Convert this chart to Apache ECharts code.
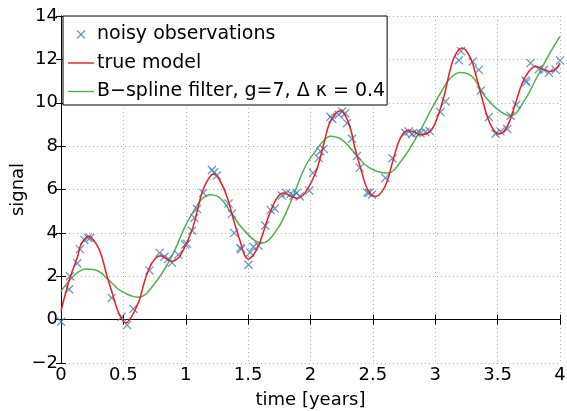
<!DOCTYPE html>
<html>
<head>
<meta charset="utf-8">
<script src="https://cdn.jsdelivr.net/npm/echarts@6/dist/echarts.min.js"></script>
<style>
html,body{margin:0;padding:0;background:#fff;}
#chart{width:567px;height:411px;}
</style>
</head>
<body>
<div id="chart"></div>
<script>
// noisy observations
var obsT = [0.00,0.065,0.072,0.13,0.152,0.187,0.215,0.233,0.407,0.487,0.53,0.58,0.709,0.79,0.83,0.86,0.89,0.94,0.995,1.009,
    1.05,1.07,1.09,1.14,1.21,1.228,1.25,1.343,1.37,1.388,1.437,1.445,1.503,1.517,1.543,1.583,1.637,1.68,1.714,1.771,1.806,1.84,1.864,1.89,1.913,1.99,
    2.02,2.065,2.08,2.105,2.16,2.175,2.226,2.253,2.279,2.293,2.333,2.373,2.395,2.455,2.47,2.493,2.6,2.657,2.76,2.788,2.815,2.85,2.881,2.921,2.955,
    3.042,3.082,3.189,3.206,3.30,3.349,3.366,3.43,3.483,3.523,3.577,3.604,3.65,3.724,3.73,3.764,3.83,3.871,3.911,3.965,4.0];
var obsV = [-0.1,1.4,2.0,2.6,3.25,3.67,3.78,3.76,1.0,0.13,-0.25,0.5,2.27,3.08,2.9,2.8,2.62,3.0,3.46,3.5,
    4.1,4.69,5.1,5.84,6.9,6.79,6.65,5.35,4.88,4.0,3.3,3.25,2.53,3.1,3.36,3.41,4.34,5.05,5.12,5.72,5.84,5.8,5.71,5.84,5.68,5.95,
    6.77,7.45,7.76,7.87,9.35,9.25,9.45,9.6,9.52,9.06,8.34,7.55,7.0,5.86,5.84,5.76,6.53,7.44,8.6,8.68,8.56,8.6,8.6,8.65,8.7,
    9.57,10.06,11.96,12.38,11.9,11.52,10.57,9.34,8.57,8.68,8.79,9.4,9.91,11.03,10.95,11.83,11.55,11.52,11.38,11.52,11.95];

// true model
var trueT = [0.0,0.072,0.134,0.16,0.22,0.286,0.326,0.366,0.407,0.447,0.487,0.52,0.567,0.607,0.634,0.674,0.728,0.795,0.848,0.888,0.941,0.982,
    1.02,1.06,1.10,1.13,1.17,1.222,1.27,1.33,1.383,1.437,1.47,1.503,1.55,1.597,1.664,1.731,1.784,1.84,1.89,1.95,
    2.04,2.105,2.16,2.24,2.306,2.36,2.413,2.46,2.52,2.57,2.614,2.667,2.72,2.775,2.83,2.88,2.96,
    3.015,3.07,3.12,3.16,3.216,3.283,3.336,3.39,3.443,3.51,3.55,3.59,3.644,3.697,3.75,3.804,3.86,3.925,3.97,4.0];
var trueV = [0.4,1.92,2.92,3.46,3.84,3.46,2.92,2.07,1.3,0.54,0.03,-0.15,0.15,0.61,1.0,1.84,2.6,2.95,2.8,2.69,2.84,3.23,
    3.69,4.3,5.2,5.84,6.37,6.72,6.45,5.68,4.6,3.6,3.0,2.8,3.05,3.6,4.76,5.6,5.84,5.7,5.6,5.8,
    6.76,8.06,9.14,9.63,9.06,7.83,6.76,5.97,5.68,5.88,6.37,7.45,8.37,8.71,8.65,8.53,8.68,
    9.29,10.29,11.52,12.2,12.52,12.06,11.06,9.9,8.99,8.56,8.68,9.06,9.99,10.9,11.44,11.67,11.55,11.44,11.6,11.83];

// B-spline filter output
var fitT = [0,0.112,0.206,0.3,0.38,0.487,0.62,0.754,0.888,0.995,1.062,1.13,1.196,1.276,1.356,1.463,1.61,1.731,1.838,1.958,
    2.039,2.105,2.159,2.253,2.36,2.466,2.614,2.734,2.868,2.96,3.042,3.122,3.202,3.296,3.39,3.497,3.604,3.71,3.818,3.911,4.0];
var fitV = [1.3,2.07,2.33,2.23,1.84,1.3,1.03,1.69,2.92,4.3,4.99,5.56,5.76,5.6,4.99,4.15,3.53,4.15,5.38,7.06,
    7.76,8.25,8.45,8.29,7.64,7.02,6.76,7.37,8.6,9.6,10.45,11.14,11.4,11.21,10.37,9.71,9.4,10.06,11.21,12.21,13.06];

var xTicks = [0,0.5,1,1.5,2,2.5,3,3.5,4];
var yTicks = [-2,0,2,4,6,8,10,12,14];

function zip(a,b){
    var out=[];
    for(var i=0;i<a.length;i++){out.push([a[i],b[i]]);}
    return out;
}

var crossPath = 'path://M0,1L1,0L5,4L9,0L10,1L6,5L10,9L9,10L5,6L1,10L0,9L4,5Z';
var linePath = 'path://M0,0L26,0L26,1.4L0,1.4Z';
var font = 'DejaVu Sans';

var chart = echarts.init(document.getElementById('chart'));
var option = {
    animation:false,
    backgroundColor:'#fff',
    textStyle:{fontFamily:font},
    grid:{left:61,right:7,top:16,bottom:48,containLabel:false,outerBoundsMode:'none'},
    legend:{
        orient:'vertical',
        left:63,
        top:16,
        backgroundColor:'#fff',
        borderColor:'#000',
        borderWidth:1,
        borderRadius:0,
        padding:[9,2,4,5],
        itemGap:9.5,
        itemWidth:26,
        itemHeight:9,
        symbolKeepAspect:true,
        textStyle:{fontSize:19,color:'#000',fontFamily:font,padding:[0,0,0,-2]},
        data:[
            {name:'noisy observations',icon:crossPath},
            {name:'true model',icon:linePath},
            {name:'B\u2212spline filter, g=7, \u0394 \u03ba = 0.4',icon:linePath}
        ]
    },
    xAxis:[{
        type:'value',
        min:0,max:4,interval:0.5,
        name:'time [years]',
        nameLocation:'middle',
        nameGap:28,
        nameMoveOverlap:false,
        nameTextStyle:{fontSize:18,color:'#000'},
        axisLine:{lineStyle:{color:'#000',width:1}},
        axisTick:{inside:true,length:5,lineStyle:{color:'#000'}},
        axisLabel:{fontSize:18,color:'#000',margin:3,
            formatter:function(v){return xTicks.indexOf(v)>=0?String(v):'';}},
        splitLine:{show:true,lineStyle:{color:'#b0b0b0',type:[1,3],width:1}}
    },{
        type:'value',position:'top',
        min:0,max:4,interval:0.5,
        axisLine:{lineStyle:{color:'#000',width:1}},
        axisTick:{inside:true,length:5,lineStyle:{color:'#000'}},
        axisLabel:{show:false},
        splitLine:{show:false}
    }],
    yAxis:[{
        type:'value',
        min:-2,max:14,interval:2,
        name:'signal',
        nameLocation:'middle',
        nameGap:34,
        nameMoveOverlap:false,
        nameTextStyle:{fontSize:18,color:'#000'},
        axisLine:{lineStyle:{color:'#000',width:1}},
        axisTick:{inside:true,length:5,lineStyle:{color:'#000'}},
        axisLabel:{fontSize:18,color:'#000',margin:3,
            formatter:function(v){return yTicks.indexOf(v)>=0?String(v).replace('-','\u2212'):'';}},
        splitLine:{show:true,lineStyle:{color:'#b0b0b0',type:[1,3],width:1}}
    },{
        type:'value',position:'right',
        min:-2,max:14,interval:2,
        axisLine:{show:true,lineStyle:{color:'#000',width:1}},
        axisTick:{show:true,inside:true,length:5,lineStyle:{color:'#000'}},
        axisLabel:{show:false},
        splitLine:{show:false}
    }],
    series:[{
        name:'noisy observations',
        type:'scatter',
        symbol:crossPath,
        symbolSize:9,
        itemStyle:{color:'#3d80c3'},
        data:zip(obsT,obsV),
        z:3
    },{
        name:'true model',
        type:'line',
        smooth:0.4,
        showSymbol:false,
        symbol:'none',
        lineStyle:{color:'#ee1c1c',width:1.5},
        itemStyle:{color:'#ee1c1c'},
        data:zip(trueT,trueV),
        z:4
    },{
        name:'B\u2212spline filter, g=7, \u0394 \u03ba = 0.4',
        type:'line',
        smooth:0.4,
        showSymbol:false,
        symbol:'none',
        lineStyle:{color:'#4db548',width:1.5},
        itemStyle:{color:'#4db548'},
        data:zip(fitT,fitV),
        z:2
    }]
};
chart.setOption(option);
</script>
</body>
</html>
